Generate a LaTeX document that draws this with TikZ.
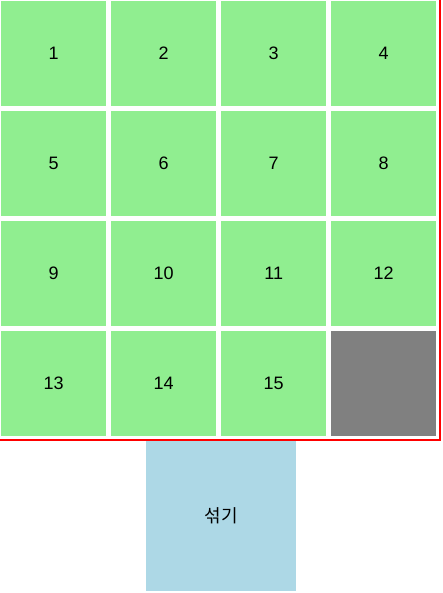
\documentclass[tikz,border=0pt]{standalone}
\usepackage{fontspec}
\setmainfont{Liberation Sans}
\newfontfamily\kofont{Noto Sans CJK KR}
\definecolor{tilegreen}{HTML}{90EE90}
\definecolor{emptygrey}{HTML}{808080}
\definecolor{btnblue}{HTML}{ADD8E6}
\definecolor{frame}{HTML}{FF0000}
\begin{document}
\begin{tikzpicture}[x=1pt,y=-1pt,
  tile/.style={fill=tilegreen,draw=none,minimum width=105pt,minimum height=105pt,inner sep=0pt,anchor=north west,font=\fontsize{18pt}{20pt}\selectfont},
  blank/.style={tile,fill=emptygrey},
  btn/.style={fill=btnblue,draw=none,minimum width=150pt,minimum height=150pt,inner sep=0pt,anchor=north west,font=\kofont\fontsize{18pt}{20pt}\selectfont}]
\useasboundingbox (0,0) rectangle (443,593);
\fill[white] (0,0) rectangle (443,593);
\draw[frame,line width=2pt] (-1,-1) rectangle (440,440);
\foreach \r in {0,1,2,3}{
  \foreach \c in {0,1,2,3}{
    \pgfmathtruncatemacro{\n}{\r*4+\c+1}
    \ifnum\n<16
      \node[tile] (t\n) at ({1+110*\c},{1+110*\r}) {\n};
    \else
      \node[blank] (t\n) at ({1+110*\c},{1+110*\r}) {};
    \fi
  }
}
\node[btn] (shuffle) at (146,441) {섞기};
\end{tikzpicture}
\end{document}
